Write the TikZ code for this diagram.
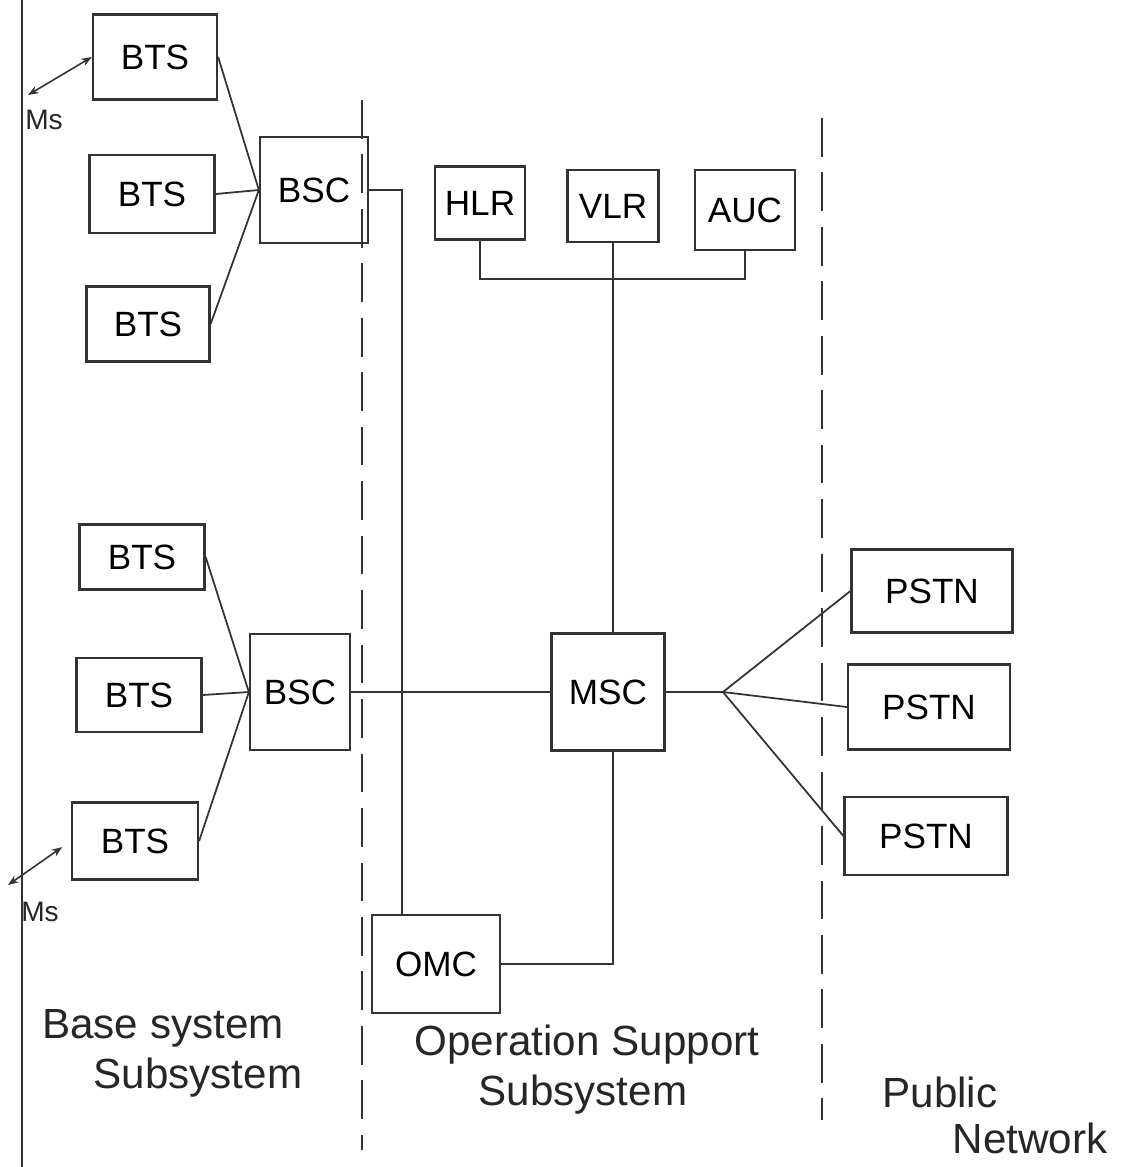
\documentclass[tikz,border=0pt]{standalone}
\usepackage{fontspec}
\setmainfont{Liberation Sans}
\usetikzlibrary{calc,arrows.meta}
\begin{document}
\begin{tikzpicture}[x=0.02cm,y=-0.02cm,
  box/.style={draw=black!80, line width=1.3pt, inner sep=0pt, font=\fontsize{20}{24}\selectfont},
  wire/.style={draw=black!80, line width=1pt},
  divider/.style={draw=black!80, line width=1.1pt, dash pattern=on 22pt off 9pt},
  lbl/.style={font=\fontsize{24}{28}\selectfont, text=black!85},
  mslbl/.style={font=\fontsize{16}{18}\selectfont, text=black!85},
  msarrow/.style={draw=black!80, line width=0.9pt, {Stealth[length=6pt]}-{Stealth[length=6pt]}}]
\useasboundingbox (0,0) rectangle (1136,1167);
\fill[white] (0,0) rectangle (1136,1167);

% left border
\draw[wire, line width=1.3pt] (22,0) -- (22,1167);

% dividers
\draw[divider] (362,100) -- (362,1150);
\draw[divider] (822,118) -- (822,1120);

% upper base station group
\node[box, minimum width=2.48cm, minimum height=1.7cm]  (bts1) at (155,57)  {BTS};
\node[box, minimum width=2.5cm,  minimum height=1.56cm] (bts2) at (152,194) {BTS};
\node[box, minimum width=2.46cm, minimum height=1.5cm]  (bts3) at (148,324) {BTS};
\node[box, minimum width=2.16cm, minimum height=2.12cm] (bsc1) at (314,190) {BSC};

% lower base station group
\node[box, minimum width=2.5cm,  minimum height=1.3cm]  (bts4) at (142,557) {BTS};
\node[box, minimum width=2.5cm,  minimum height=1.48cm] (bts5) at (139,695) {BTS};
\node[box, minimum width=2.52cm, minimum height=1.54cm] (bts6) at (135,841) {BTS};
\node[box, minimum width=2.0cm,  minimum height=2.32cm] (bsc2) at (300,692) {BSC};

% registers
\node[box, minimum width=1.8cm,  minimum height=1.46cm] (hlr) at (480,203) {HLR};
\node[box, minimum width=1.82cm, minimum height=1.44cm] (vlr) at (613,206) {VLR};
\node[box, minimum width=2.0cm,  minimum height=1.6cm]  (auc) at (745,210) {AUC};

% switching
\node[box, minimum width=2.26cm, minimum height=2.34cm] (msc) at (608,692) {MSC};
\node[box, minimum width=2.56cm, minimum height=1.96cm] (omc) at (436,964) {OMC};

% public network
\node[box, minimum width=3.22cm, minimum height=1.66cm] (pstn1) at (932,591) {PSTN};
\node[box, minimum width=3.24cm, minimum height=1.7cm]  (pstn2) at (929,707) {PSTN};
\node[box, minimum width=3.26cm, minimum height=1.56cm] (pstn3) at (926,836) {PSTN};

% BTS -> BSC
\draw[wire] (bts1.east) -- (bsc1.west);
\draw[wire] (bts2.east) -- (bsc1.west);
\draw[wire] (bts3.east) -- (bsc1.west);
\draw[wire] (bts4.east) -- (bsc2.west);
\draw[wire] (bts5.east) -- (bsc2.west);
\draw[wire] (bts6.east) -- (bsc2.west);

% BSC1 -> OMC
\draw[wire] (bsc1.east) -| ($(omc.north west)!0.24!(omc.north east)$);
% BSC2 -> MSC
\draw[wire] (bsc2.east) -- (msc.west);
% VLR -> MSC
\draw[wire] (vlr.south) -- (vlr.south |- msc.north);
% HLR -- AUC bus
\draw[wire] (hlr.south) -- ++(0,38) -| (auc.south);
% MSC -> OMC
\draw[wire] (msc.south -| vlr.south) |- (omc.east);

% MSC -> PSTN
\coordinate (fan) at (723,692);
\draw[wire] (msc.east) -- (fan);
\draw[wire] (fan) -- (pstn1.west);
\draw[wire] (fan) -- (pstn2.west);
\draw[wire] (fan) -- (pstn3.west);

% mobile stations
\coordinate (ms1) at (28,95);
\coordinate (ms2) at (8,885);
\draw[msarrow] (ms1) -- (bts1.west);
\draw[msarrow, shorten >=6pt] (ms2) -- (bts6.west);
\node[mslbl] (mslabel1) at (44,120) {Ms};
\node[mslbl] (mslabel2) at (40,912) {Ms};

% subsystem labels
\node[lbl] (l1) at (163,1028) {Base system};
\node[lbl] (l2) at (198,1078) {Subsystem};
\node[lbl] (l3) at (587,1045) {Operation Support};
\node[lbl] (l4) at (583,1095) {Subsystem};
\node[lbl] (l5) at (940,1092) {Public};
\node[lbl] (l6) at (1030,1138) {Network};
\end{tikzpicture}
\end{document}
